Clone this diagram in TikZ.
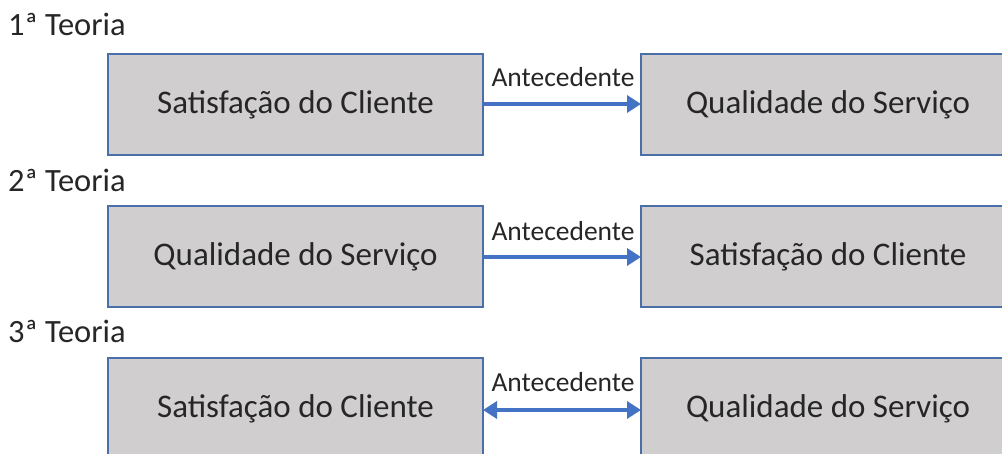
\documentclass[tikz,border=0pt]{standalone}
\usepackage{fontspec}
\setmainfont{Carlito}
\usetikzlibrary{arrows.meta}
\definecolor{boxfill}{HTML}{D0CECE}
\definecolor{boxline}{HTML}{4A6FA8}
\definecolor{arrowblue}{HTML}{4472C4}
\begin{document}
\begin{tikzpicture}[x=1pt,y=-1pt,
  box/.style={draw=boxline,line width=2pt,fill=boxfill},
  boxtext/.style={font=\fontsize{33}{36}\selectfont,text=black!85},
  title/.style={font=\fontsize{32.5}{34}\selectfont,anchor=west,text=black!85,inner sep=0pt},
  lab/.style={font=\fontsize{27.5}{30}\selectfont,text=black!85,inner sep=0pt},
  arr/.style={draw=arrowblue,line width=4pt,-{Triangle[length=14pt,width=17pt]}},
  darr/.style={draw=arrowblue,line width=4pt,{Triangle[length=14pt,width=17pt]}-{Triangle[length=14pt,width=17pt]}}]
\useasboundingbox (0,0) rectangle (1002,454);
% row 1
\node[title] (t1) at (8,24) {1ª Teoria};
\draw[box] (108,54) rectangle (483,155);
\node[boxtext] (a1) at (295.5,104.5) {Satisfação do Cliente};
\draw[box] (641,54) rectangle (1010,155);
\node[boxtext] (b1) at (828,104.5) {Qualidade do Serviço};
\coordinate (a1e) at (483,104);
\coordinate (b1w) at (641,104);
\draw[arr] (a1e) -- (b1w);
\node[lab] (l1) at (563,77) {Antecedente};
% row 2
\node[title] (t2) at (8,180) {2ª Teoria};
\draw[box] (108,206) rectangle (483,307);
\node[boxtext] (a2) at (295.5,256.5) {Qualidade do Serviço};
\draw[box] (641,206) rectangle (1010,307);
\node[boxtext] (b2) at (828,256.5) {Satisfação do Cliente};
\coordinate (a2e) at (483,257);
\coordinate (b2w) at (641,257);
\draw[arr] (a2e) -- (b2w);
\node[lab] (l2) at (563,231) {Antecedente};
% row 3
\node[title] (t3) at (8,331) {3ª Teoria};
\draw[box] (108,358) rectangle (483,470);
\node[boxtext] (a3) at (295.5,409) {Satisfação do Cliente};
\draw[box] (641,358) rectangle (1010,470);
\node[boxtext] (b3) at (828,409) {Qualidade do Serviço};
\coordinate (a3e) at (483,410);
\coordinate (b3w) at (641,410);
\draw[darr] (a3e) -- (b3w);
\node[lab] (l3) at (563,382) {Antecedente};
\end{tikzpicture}
\end{document}
